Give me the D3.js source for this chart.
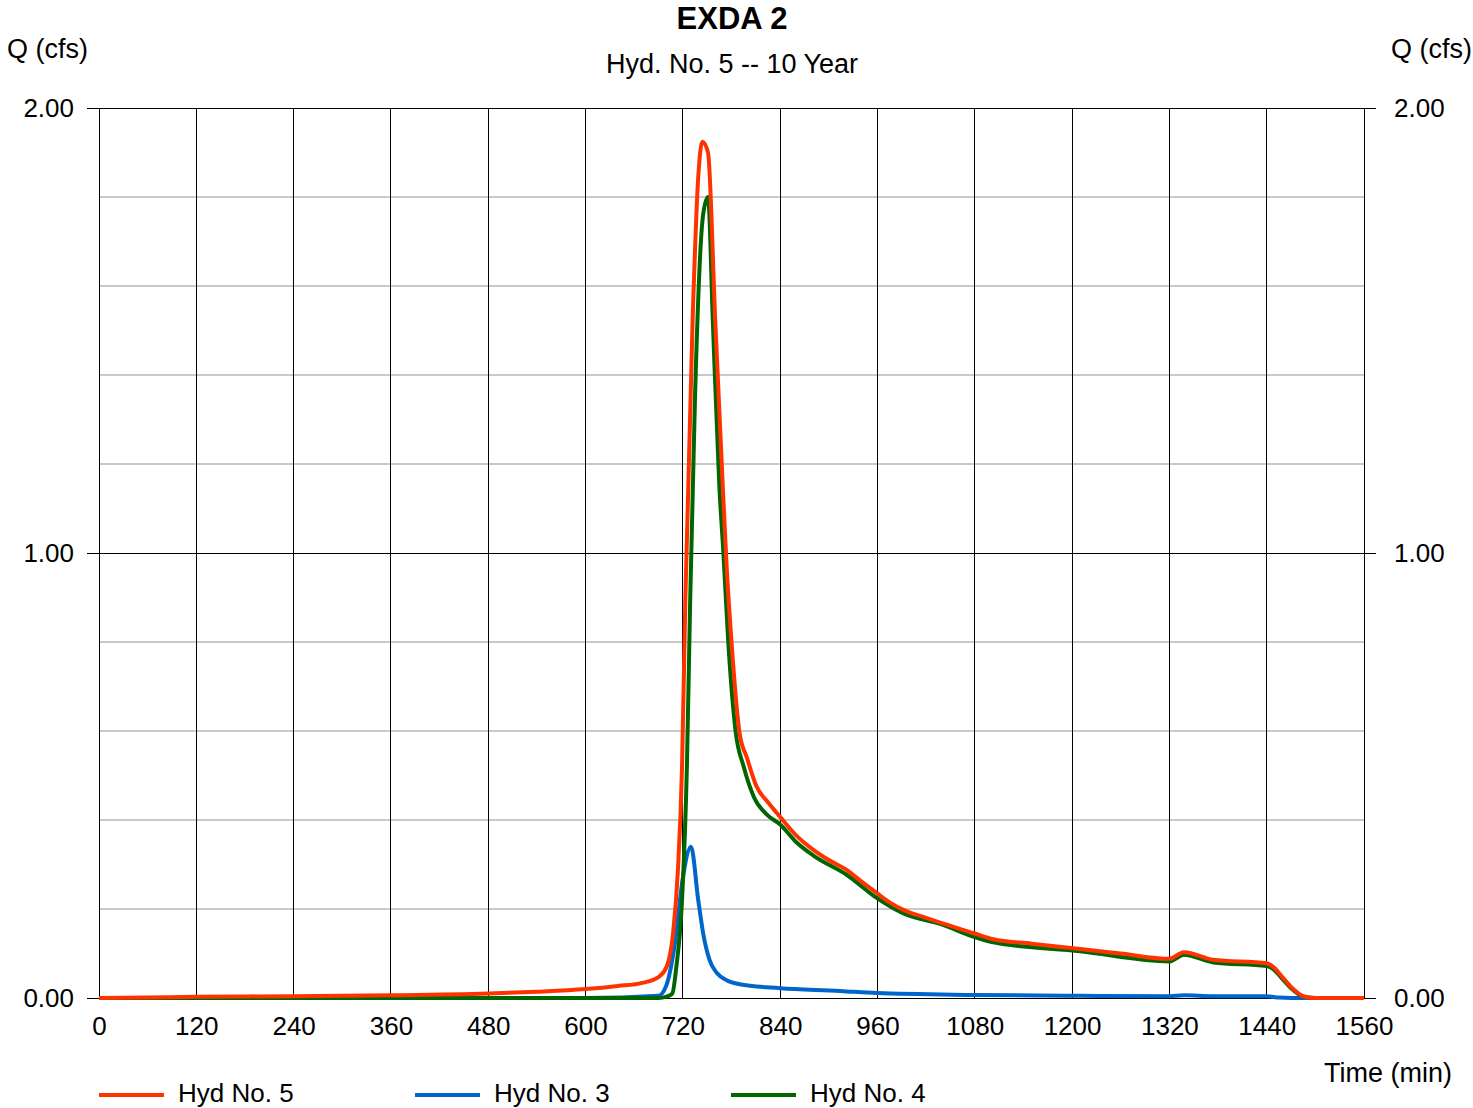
<!DOCTYPE html>
<html>
<head>
<meta charset="utf-8">
<script src="https://cdn.jsdelivr.net/npm/d3@7"></script>
<style>
  html, body { margin: 0; padding: 0; background: #fff; }
  svg { display: block; font-family: "Liberation Sans", Arial, sans-serif; }
</style>
</head>
<body>
<svg id="chart" width="1473" height="1108"></svg>
<script>
// Hydrograph ordinates, time in minutes and flow in cfs
const hyd5Time = [0, 60, 120, 240, 360, 480, 540, 600, 640, 670, 690, 700, 708, 714, 719, 723, 732, 739, 744, 751, 760, 770, 774, 780, 790, 799, 811, 825, 840, 860, 881, 900, 922, 940, 959, 975, 992, 1020, 1050, 1078, 1103, 1150, 1210, 1260, 1320, 1338, 1374, 1440, 1448, 1458, 1470, 1485, 1500, 1560];
const hyd5Flow = [0, 0.001, 0.003, 0.004, 0.006, 0.010, 0.014, 0.020, 0.027, 0.034, 0.047, 0.070, 0.146, 0.290, 0.520, 0.890, 1.520, 1.845, 1.924, 1.900, 1.520, 1.120, 0.970, 0.800, 0.595, 0.540, 0.475, 0.440, 0.407, 0.365, 0.333, 0.310, 0.288, 0.262, 0.236, 0.215, 0.198, 0.180, 0.162, 0.146, 0.132, 0.122, 0.110, 0.100, 0.088, 0.103, 0.086, 0.078, 0.070, 0.050, 0.025, 0.004, 0, 0];

const hyd3Time = [0, 600, 690, 700, 710, 720, 730, 739, 745, 753, 762, 774, 790, 840, 914, 959, 1080, 1210, 1320, 1338, 1374, 1440, 1455, 1470, 1560];
const hyd3Flow = [0, 0, 0.005, 0.030, 0.120, 0.270, 0.340, 0.220, 0.146, 0.085, 0.056, 0.040, 0.031, 0.022, 0.016, 0.011, 0.007, 0.005, 0.004, 0.006, 0.004, 0.004, 0.001, 0, 0];

const hyd4Time = [0, 690, 700, 707, 712, 719, 725, 729, 735, 745, 751, 757, 765, 770, 776, 785, 795, 808, 825, 840, 860, 881, 922, 959, 992, 1040, 1078, 1103, 1210, 1320, 1338, 1374, 1440, 1448, 1458, 1470, 1485, 1500, 1560];
const hyd4Flow = [0, 0, 0.003, 0.010, 0.070, 0.220, 0.520, 0.890, 1.350, 1.760, 1.800, 1.520, 1.150, 1.000, 0.800, 0.600, 0.520, 0.450, 0.410, 0.390, 0.350, 0.320, 0.277, 0.225, 0.190, 0.165, 0.138, 0.125, 0.105, 0.082, 0.097, 0.080, 0.072, 0.065, 0.046, 0.022, 0.003, 0, 0];

const seriesNames = ["Hyd No. 5", "Hyd No. 3", "Hyd No. 4"];
const seriesColors = ["#ff3300", "#0066cc", "#006600"];

const xTicks = [0, 120, 240, 360, 480, 600, 720, 840, 960, 1080, 1200, 1320, 1440, 1560];
const yMajorTicks = [0, 1, 2];
const yMinorTicks = [0.2, 0.4, 0.6, 0.8, 1.2, 1.4, 1.6, 1.8];

const titleText = "EXDA 2";
const subtitleText = "Hyd. No. 5 -- 10 Year";
const yAxisTitle = "Q (cfs)";
const xAxisTitle = "Time (min)";

// Plot area
const plotLeft = 99, plotRight = 1364, plotTop = 108, plotBottom = 998;
const fontSize = 26;
const svg = d3.select("#chart");

const x = d3.scaleLinear().domain([0, 1560]).range([plotLeft, plotRight]);
const y = d3.scaleLinear().domain([0, 2]).range([plotBottom, plotTop]);

// Gray minor grid
svg.append("g").selectAll("line").data(yMinorTicks).join("line")
  .attr("x1", plotLeft).attr("x2", plotRight)
  .attr("y1", d => y(d)).attr("y2", d => y(d))
  .attr("stroke", "#c8c8c8").attr("stroke-width", 2);

// Black vertical grid
svg.append("g").selectAll("line").data(xTicks).join("line")
  .attr("x1", d => x(d)).attr("x2", d => x(d))
  .attr("y1", plotTop).attr("y2", plotBottom)
  .attr("stroke", "#000").attr("stroke-width", 1)
  .attr("shape-rendering", "crispEdges");

// Black horizontal grid at major ticks
svg.append("g").selectAll("line").data(yMajorTicks).join("line")
  .attr("x1", plotLeft).attr("x2", plotRight)
  .attr("y1", d => y(d)).attr("y2", d => y(d))
  .attr("stroke", "#000").attr("stroke-width", 1)
  .attr("shape-rendering", "crispEdges");

// Y axes on both sides
const fmt = d3.format(".2f");
const leftAxis = svg.append("g").attr("transform", `translate(${plotLeft},0)`)
  .call(d3.axisLeft(y).tickValues(yMajorTicks).tickSize(12).tickPadding(13).tickFormat(fmt));
const rightAxis = svg.append("g").attr("transform", `translate(${plotRight},0)`)
  .call(d3.axisRight(y).tickValues(yMajorTicks).tickSize(12).tickPadding(18).tickFormat(fmt));
[leftAxis, rightAxis].forEach(g => {
  g.select(".domain").remove();
  g.selectAll(".tick line").attr("stroke", "#000").attr("shape-rendering", "crispEdges");
  g.selectAll(".tick text").attr("font-size", fontSize).attr("fill", "#000")
    .attr("font-family", "Liberation Sans, Arial, sans-serif");
});

// X axis labels
const xAxis = svg.append("g").attr("transform", `translate(0,${plotBottom})`)
  .call(d3.axisBottom(x).tickValues(xTicks).tickSize(0).tickPadding(19).tickFormat(d3.format("d")));
xAxis.select(".domain").remove();
xAxis.selectAll(".tick text").attr("font-size", fontSize).attr("fill", "#000")
  .attr("font-family", "Liberation Sans, Arial, sans-serif");

// Hydrograph lines
const series = [
  { name: seriesNames[1], color: seriesColors[1], t: hyd3Time, q: hyd3Flow },
  { name: seriesNames[2], color: seriesColors[2], t: hyd4Time, q: hyd4Flow },
  { name: seriesNames[0], color: seriesColors[0], t: hyd5Time, q: hyd5Flow }
];
const line = d3.line().curve(d3.curveMonotoneX).x(d => x(d[0])).y(d => y(d[1]));
svg.append("g").selectAll("path").data(series).join("path")
  .attr("d", s => line(d3.zip(s.t, s.q)))
  .attr("fill", "none")
  .attr("stroke", s => s.color)
  .attr("stroke-width", 4)
  .attr("stroke-linejoin", "round");

// Titles
svg.append("text").attr("x", 732).attr("y", 29).attr("text-anchor", "middle")
  .attr("font-size", 31).attr("font-weight", "bold").text(titleText);
svg.append("text").attr("x", 732).attr("y", 73).attr("text-anchor", "middle")
  .attr("font-size", 27).text(subtitleText);
svg.append("text").attr("x", 7).attr("y", 58).attr("font-size", 27).text(yAxisTitle);
svg.append("text").attr("x", 1472).attr("y", 58).attr("text-anchor", "end")
  .attr("font-size", 27).text(yAxisTitle);
svg.append("text").attr("x", 1452).attr("y", 1082).attr("text-anchor", "end")
  .attr("font-size", 27).text(xAxisTitle);

// Legend
const legendX = [99, 415, 731];
const lg = svg.append("g").selectAll("g").data(seriesNames).join("g")
  .attr("transform", (d, i) => `translate(${legendX[i]},1095)`);
lg.append("line").attr("x1", 0).attr("x2", 65).attr("y1", 0).attr("y2", 0)
  .attr("stroke", (d, i) => seriesColors[i]).attr("stroke-width", 4);
lg.append("text").attr("x", 79).attr("y", 7).attr("font-size", 26).text(d => d);
</script>
</body>
</html>
